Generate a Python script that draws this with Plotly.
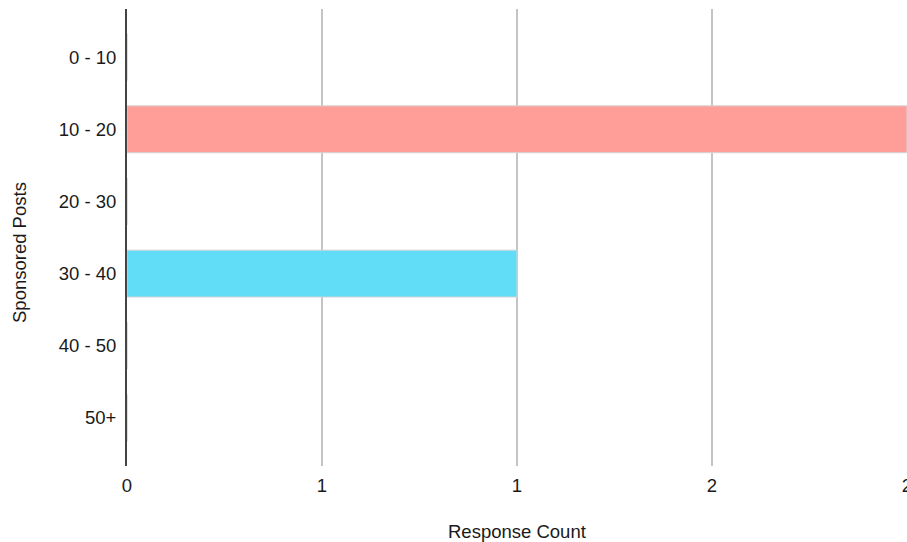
import plotly.graph_objects as go

categories = ["0 - 10", "10 - 20", "20 - 30", "30 - 40", "40 - 50", "50+"]
counts = [0, 2, 0, 1, 0, 0]
bar_colors = ["#FF9E99", "#FF9E99", "#62DDF7", "#62DDF7", "#FF9E99", "#62DDF7"]
x_tickvals = [0, 0.5, 1, 1.5, 2]
x_ticktext = ["0", "1", "1", "2", "2"]
x_title = "Response Count"
y_title = "Sponsored Posts"

W, H = 907, 542
ML, MR, MT, MB = 127, 0, 9, 76
plot_w = W - ML - MR
plot_h = H - MT - MB

fig = go.Figure(
    go.Bar(
        y=categories,
        x=counts,
        orientation="h",
        width=0.65,
        marker=dict(color=bar_colors, line=dict(color="#d4d4d4", width=1)),
        hoverinfo="x+y",
    )
)

font = dict(family="Liberation Sans, Arial, Helvetica, sans-serif", size=18.5, color="#1a1a1a")

fig.update_layout(
    width=W,
    height=H,
    margin=dict(l=ML, r=MR, t=MT, b=MB, autoexpand=False),
    plot_bgcolor="white",
    paper_bgcolor="white",
    font=font,
    showlegend=False,
    xaxis=dict(
        range=[0, 2],
        tickvals=x_tickvals,
        ticktext=x_ticktext,
        showgrid=True,
        gridcolor="#c4c4c4",
        gridwidth=2,
        zeroline=False,
        showline=False,
        ticks="",
        ticklabelstandoff=6,
        ticklabeloverflow="allow",
        automargin=False,
        fixedrange=True,
    ),
    yaxis=dict(
        categoryorder="array",
        categoryarray=categories,
        autorange=False,
        range=[5.667, -0.667],
        showgrid=False,
        zeroline=False,
        showline=True,
        linecolor="#444444",
        linewidth=2,
        ticks="",
        ticklabelstandoff=5,
        automargin=False,
        fixedrange=True,
    ),
    annotations=[
        dict(
            text=x_title, xref="paper", yref="paper",
            x=0.5, y=-(531 - (MT + plot_h)) / plot_h,
            xanchor="center", yanchor="middle", showarrow=False, font=font,
        ),
        dict(
            text=y_title, xref="paper", yref="paper",
            x=(20 - ML) / plot_w, y=((MT + plot_h) - 252) / plot_h,
            xanchor="center", yanchor="middle", textangle=-90,
            showarrow=False, font=font,
        ),
    ],
)

fig.write_html(
    "out.html",
    config={"displayModeBar": False},
    post_script="document.body.style.margin='0';document.body.style.overflow='hidden';",
)
